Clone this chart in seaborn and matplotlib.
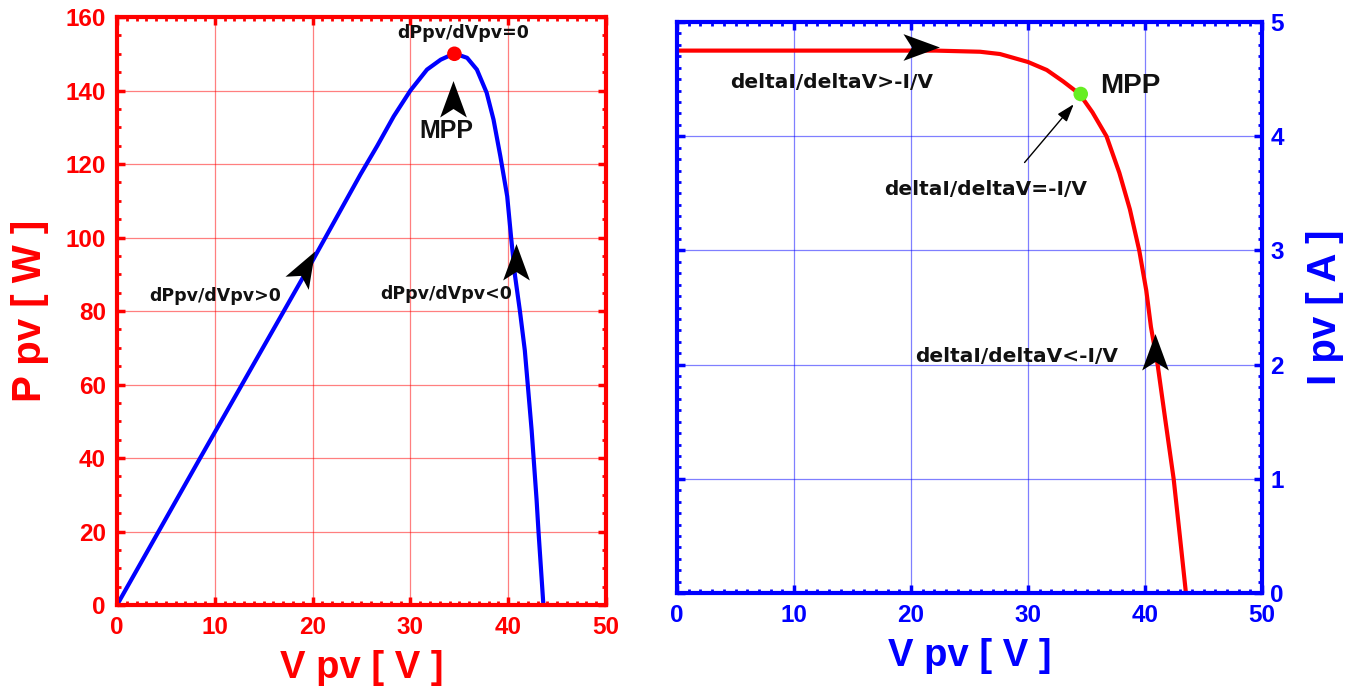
import matplotlib
matplotlib.use("Agg")
import matplotlib.pyplot as plt
import seaborn as sns
import pandas as pd
from matplotlib.ticker import MultipleLocator
from matplotlib.markers import MarkerStyle
from matplotlib.path import Path
from matplotlib.transforms import Affine2D

# ---- data ----
pv_voltage = [0, 8.5, 20.1, 24.9, 26.6, 28.3, 30.0, 31.7, 33.1, 34.5, 35.8, 36.8, 37.8,
              38.5, 39.2, 39.9, 40.3, 40.7, 41.2, 41.7, 42.0, 42.4, 42.6, 42.9, 43.1, 43.4, 43.6]
pv_power = [0, 40.0, 94.2, 117.2, 124.9, 133.0, 140.0, 145.7, 148.4, 150.1, 148.9, 145.7, 139.4,
            132.1, 122.1, 111.2, 100.0, 89.6, 80.0, 69.3, 60.0, 47.5, 40.0, 28.8, 20.0, 8.0, 0]

iv_voltage = [0, 22.1, 25.9, 27.6, 30.0, 31.6, 33.0, 34.4, 35.5, 36.7, 37.8, 38.7, 39.5,
              40.1, 40.5, 41.07, 41.75, 42.44, 42.97, 43.49]
iv_current = [4.75, 4.75, 4.74, 4.72, 4.65, 4.58, 4.48, 4.37, 4.21, 4.00, 3.68, 3.36, 3.00,
              2.65, 2.33, 2.00, 1.50, 1.00, 0.50, 0]

mpp_v, mpp_p, mpp_i = 34.5, 150.0, 4.37
x_ticks = [0, 10, 20, 30, 40, 50]
p_ticks = [0, 20, 40, 60, 80, 100, 120, 140, 160]
i_ticks = [0, 1, 2, 3, 4, 5]

sns.set_theme(style="white")
plt.rcParams['font.family'] = ['Liberation Sans', 'DejaVu Sans']
plt.rcParams['font.weight'] = 'bold'
plt.rcParams['text.color'] = 'black'

fig = plt.figure(figsize=(13.59, 6.98), dpi=100)
ax1 = fig.add_axes([0.0861, 0.1332, 0.3598, 0.8424])
ax2 = fig.add_axes([0.4982, 0.1504, 0.4305, 0.8180])

RED = '#ff0000'
BLUE = '#0000ff'
ANN = dict(ha='center', va='center', fontweight='bold', family=['DejaVu Sans'], color='#111111')

def style(ax, col, gridcol, ymin):
    for s in ax.spines.values():
        s.set_color(col)
        s.set_linewidth(3)
    ax.grid(True, which='major', color=gridcol, linewidth=0.9, alpha=0.5)
    ax.xaxis.set_minor_locator(MultipleLocator(1))
    ax.yaxis.set_minor_locator(MultipleLocator(ymin))
    ax.tick_params(which='both', direction='in', colors=col, top=True, right=True,
                   left=True, bottom=True)
    ax.tick_params(which='major', length=6, width=2.5)
    ax.tick_params(which='minor', length=3, width=2)

# notched arrow head marker (pointing up before rotation)
_head = Path([(0, 0.8), (-0.55, -0.7), (0, -0.35), (0.55, -0.7), (0, 0.8)],
             [Path.MOVETO, Path.LINETO, Path.LINETO, Path.LINETO, Path.CLOSEPOLY])

def head(ax, x, y, angle, size=28):
    m = MarkerStyle(_head, transform=Affine2D().rotate_deg(angle))
    ax.plot([x], [y], linestyle='none', marker=m, markersize=size, color='black',
            markeredgewidth=0, zorder=6)

# ---- left: P-V ----
df_p = pd.DataFrame({'V': pv_voltage, 'P': pv_power})
sns.lineplot(data=df_p, x='V', y='P', ax=ax1, color=BLUE, linewidth=3, sort=False,
             estimator=None)
sns.scatterplot(x=[mpp_v], y=[mpp_p], ax=ax1, color=RED, s=110, edgecolor='none', zorder=5)
ax1.set_xlim(0, 50)
ax1.set_ylim(0, 160)
ax1.set_xticks(x_ticks)
ax1.set_yticks(p_ticks)
style(ax1, RED, RED, 5)
ax1.tick_params(axis='both', which='major', labelsize=17.5, labelcolor=RED)
ax1.tick_params(axis='y', which='major', pad=8)
ax1.tick_params(axis='x', which='major', pad=8)
ax1.set_xlabel('V pv [ V ]', color=RED, fontsize=27.5, fontweight='bold', labelpad=8)
ax1.set_ylabel('P pv [ W ]', color=RED, fontsize=29, fontweight='bold', labelpad=12)

head(ax1, 19.27, 91.6, -29.5)
head(ax1, 40.8, 93.0, 0)
head(ax1, 34.4, 137.3, 0)
ax1.text(35.4, 155.6, 'dPpv/dVpv=0', fontsize=12.5, **ANN)
ax1.text(33.7, 129.0, 'MPP', fontsize=18, ha='center', va='center', fontweight='bold', color='#111111')
ax1.text(10.0, 84.0, 'dPpv/dVpv>0', fontsize=12.5, **ANN)
ax1.text(33.7, 84.6, 'dPpv/dVpv<0', fontsize=12.5, **ANN)

# ---- right: I-V ----
df_i = pd.DataFrame({'V': iv_voltage, 'I': iv_current})
sns.lineplot(data=df_i, x='V', y='I', ax=ax2, color=RED, linewidth=3, sort=False,
             estimator=None)
sns.scatterplot(x=[mpp_v], y=[mpp_i], ax=ax2, color='#66ee22', s=110, edgecolor='none', zorder=5)
ax2.set_xlim(0, 50)
ax2.set_ylim(0, 5)
ax2.set_xticks(x_ticks)
ax2.set_yticks(i_ticks)
style(ax2, BLUE, BLUE, 0.1)
ax2.yaxis.tick_right()
ax2.yaxis.set_label_position('right')
ax2.tick_params(which='both', left=True, right=True)
ax2.tick_params(axis='both', which='major', labelsize=17.5, labelcolor=BLUE)
ax2.tick_params(axis='y', which='major', pad=6)
ax2.tick_params(axis='x', which='major', pad=8)
ax2.set_xlabel('V pv [ V ]', color=BLUE, fontsize=27.5, fontweight='bold', labelpad=8)
ax2.set_ylabel('I pv [ A ]', color=BLUE, fontsize=29, fontweight='bold', labelpad=16)

head(ax2, 20.74, 4.78, -90)
head(ax2, 40.85, 2.10, 0)
ax2.annotate('', xy=(33.9, 4.28), xytext=(29.7, 3.77),
             arrowprops=dict(arrowstyle='-|>,head_length=0.9,head_width=0.3', color='black',
                             lw=1, shrinkA=0, shrinkB=0))
ax2.text(13.2, 4.47, 'deltaI/deltaV>-I/V', fontsize=14.5, **ANN)
ax2.text(38.7, 4.44, 'MPP', fontsize=20, ha='center', va='center', fontweight='bold', color='#111111')
ax2.text(26.4, 3.53, 'deltaI/deltaV=-I/V', fontsize=14.5, **ANN)
ax2.text(29.0, 2.07, 'deltaI/deltaV<-I/V', fontsize=14.5, **ANN)

fig.savefig('out.png', dpi=100, facecolor='white')
